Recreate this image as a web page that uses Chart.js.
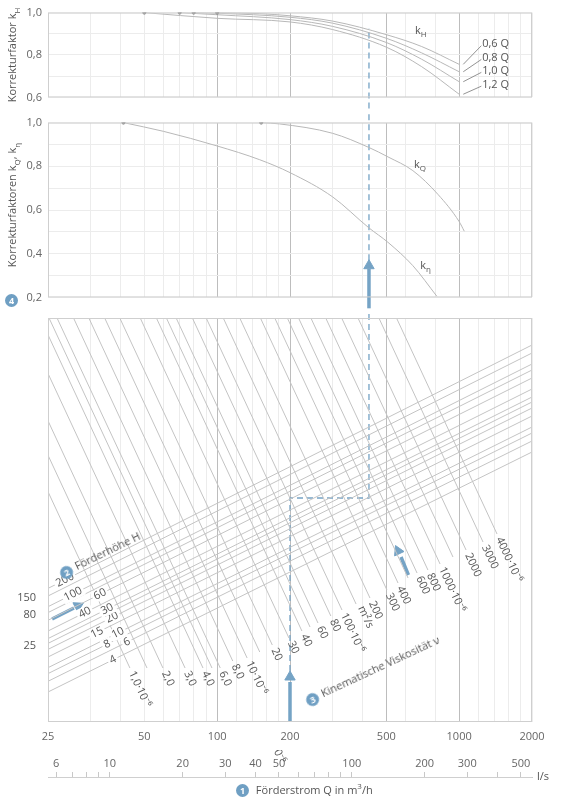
<!DOCTYPE html>
<html><head><meta charset="utf-8">
<script src="https://cdn.jsdelivr.net/npm/chart.js@4/dist/chart.umd.min.js"></script>
<style>
body{margin:0;background:#fff;font-family:"Open Sans",sans-serif;color:#555}
#wrap{position:relative;width:562px;height:800px;overflow:hidden}
canvas{position:absolute;left:0}
.t{position:absolute;font-size:11px;white-space:nowrap;color:#555}
.rot{transform:translate(-50%,-50%) rotate(-90deg)}
.num{display:inline-block;width:13px;height:13px;border-radius:50%;background:#6f9fc3;color:#fff;font-size:9px;line-height:13px;text-align:center;font-weight:bold;margin-right:4px;vertical-align:middle}
sub{font-size:8px}
</style></head><body><div id="wrap">
<canvas id="cH" width="562" height="110" style="top:0"></canvas>
<canvas id="cK" width="562" height="200" style="top:110px"></canvas>
<canvas id="cN" width="562" height="440" style="top:310px"></canvas>
<canvas id="cM" width="562" height="30" style="top:750px"></canvas>
<div class="t rot" style="left:13px;top:55px">Korrekturfaktor k<sub>H</sub></div>
<div class="t rot" style="left:13px;top:205px">Korrekturfaktoren k<sub>Q</sub>, k<sub>η</sub></div>
<div class="t" style="left:5px;top:291px"><span class="num">4</span></div>
<div class="t" style="left:60px;top:566px;transform:rotate(-26deg);transform-origin:0 50%"><span class="num">2</span>Förderhöhe H</div>
<div class="t" style="left:306px;top:693px;transform:rotate(-25deg);transform-origin:0 50%"><span class="num">3</span>Kinematische Viskosität ν</div>
<div class="t" style="left:537px;top:768px">l/s</div>
<div class="t" style="left:236px;top:780px"><span class="num">1</span> Förderstrom Q in m<sup style="font-size:8px">3</sup>/h</div>
</div>
<script>
// x axis (Förderstrom)
const gridTicks = [20,30,40,50,60,70,80,90,100,120,140,160,180,200,300,400,500,600,800,1000,1200,1400,1600,1800,2000];
const majorTicks = [100,200,500,1000];
const qTickLabels = {20:'25',50:'50',100:'100',200:'200',500:'500',1000:'1000',2000:'2000'};
const m3Ticks = [6,7,8,9,10,20,30,40,50,60,70,80,90,100,200,300,400,500];
const m3Labels = [6,10,20,30,40,50,100,200,300,500];

// Korrekturfaktor kH
const kHQ06 = [100,150,200,300,500,700,1000];
const kH06  = [1.0,0.995,0.985,0.96,0.896,0.84,0.756];
const kHQ08 = [80,100,200,300,500,700,1000];
const kH08  = [1.0,0.997,0.978,0.95,0.879,0.81,0.721];
const kHQ10 = [70,100,200,300,500,700,1000];
const kH10  = [1.0,0.99,0.967,0.935,0.859,0.78,0.674];
const kHQ12 = [50,100,200,300,500,700,1000];
const kH12  = [1.0,0.973,0.956,0.92,0.837,0.745,0.615];
const kHNames = ['0,6 Q','0,8 Q','1,0 Q','1,2 Q'];
const kHNameY = [0.852,0.787,0.726,0.661];

// kQ, keta
const kQQ = [152,181,300,424,508,644,818,1000,1050];
const kQ  = [1.0,0.994,0.951,0.886,0.843,0.78,0.671,0.547,0.503];
const kEQ = [41,60,100,150,200,300,424,508,644,809];
const kE  = [1.0,0.96,0.893,0.83,0.771,0.66,0.518,0.452,0.345,0.205];

// Nomogramm: Förderhöhe H
const hHeads  = [4,6,8,10,15,20,25,30,40,60,80,100,150,200];
const hLeftU  = [30,40.7,48.4,54.3,65,72.6,78.6,83.4,91,101.7,109.4,115.3,126,133.6];
const hRightU = [270,281,289,295,306,314,320,325,333,344,352,358,369,377];
const hLabelQ = [37.1,42.4,35.1,38.9,31.9,36.8,null,35.1,28.4,32.8,null,25.4,null,23.5];

// Nomogramm: Kinematische Viskosität
const nuLabels = ['1,0·10⁻⁶','','2,0','3,0','4,0','','6,0','8,0','10·10⁻⁶','','20','30','40','','60','80','100·10⁻⁶','','200\nm²/s','300','400','','600','800','1000·10⁻⁶','','2000','3000','4000·10⁻⁶'];
const nuStartQ = [20,20,20,20,20,20.2,21.8,25.5,29.5,34.3,39.6,48.1,56.1,61.7,67.7,79.0,90.1,106,124,151,173,195,217,244,281,327,382,466,551];
const nuStartU = [230.3,266.8,301.2,348.5,387.2,404,404,404,404,404,404,404,404,404,404,404,404,404,404,404,404,404,404,404,404,404,404,404,404];
const nuEndQ = [43.6,51.3,59.7,73.7,87.4,95.2,103,116,133,150,169,198,224,242,261,295,328,375,428,503,559,615,670,743,834,943,1068,1255,1434];
const nuEndU = [54,54,54,54,54,54,54,61,64,70,77,84,91,95,99,106,112,118,124,132,139,144,149,152,158,165,172,180,188];

const lineGrey = '#c4c4c4';
const blue = '#75a3c5';
const txt = '#555';
const FONT = '"Open Sans", sans-serif';

const pts = (xs, ys) => xs.map((x, i) => ({x, y: ys[i]}));

const frame = {
  id: 'frame',
  afterDraw(chart) {
    if (!chart.options.plugins.frame) return;
    const a = chart.chartArea, c = chart.ctx;
    c.save(); c.strokeStyle = '#cfcfcf'; c.lineWidth = 1;
    c.strokeRect(a.left + 0.5, a.top + 0.5, a.width - 1, a.height - 1);
    c.restore();
  }
};

const textLabels = {
  id: 'textLabels',
  afterDatasetsDraw(chart, args, opts) {
    if (!opts.items) return;
    const c = chart.ctx, xs = chart.scales.x, ys = chart.scales.y;
    c.save(); c.fillStyle = txt; c.textBaseline = 'middle';
    opts.items.forEach(it => {
      const px = xs.getPixelForValue(it.x), py = ys.getPixelForValue(it.y);
      c.font = '11px ' + FONT; c.textAlign = 'left';
      c.fillText(it.text, px, py);
      if (it.sub) {
        const w = c.measureText(it.text).width;
        c.font = '8px ' + FONT;
        c.fillText(it.sub, px + w, py + 4);
      }
    });
    c.restore();
  }
};

const nomoLabels = {
  id: 'nomoLabels',
  afterDatasetsDraw(chart) {
    if (!chart.options.plugins.nomoLabels) return;
    const c = chart.ctx, xs = chart.scales.x, ys = chart.scales.y;
    c.save(); c.fillStyle = txt; c.font = '11px ' + FONT; c.textBaseline = 'middle';
    hHeads.forEach((h, i) => {
      const xL = xs.getPixelForValue(20), yL = ys.getPixelForValue(hLeftU[i]);
      const xR = xs.getPixelForValue(2000), yR = ys.getPixelForValue(hRightU[i]);
      if (hLabelQ[i] === null) {
        c.textAlign = 'right';
        c.fillText(String(h), xL - 12, yL + 2);
        return;
      }
      const px = xs.getPixelForValue(hLabelQ[i]);
      const py = yL + (yR - yL) * (px - xL) / (xR - xL);
      const w = c.measureText(String(h)).width;
      c.save(); c.translate(px, py); c.rotate(Math.atan2(yR - yL, xR - xL));
      c.fillStyle = '#fff'; c.fillRect(-w / 2 - 2, -6, w + 4, 12);
      c.fillStyle = txt; c.textAlign = 'center'; c.fillText(String(h), 0, 0);
      c.restore();
    });
    nuLabels.forEach((lab, i) => {
      if (!lab) return;
      const xs0 = xs.getPixelForValue(nuStartQ[i]), ys0 = ys.getPixelForValue(nuStartU[i]);
      const xe = xs.getPixelForValue(nuEndQ[i]), ye = ys.getPixelForValue(nuEndU[i]);
      c.save(); c.translate(xe, ye); c.rotate(Math.atan2(ye - ys0, xe - xs0));
      c.textAlign = 'left';
      lab.split('\n').forEach((l, k) => c.fillText(l, 4, k * 12));
      c.restore();
    });
    c.restore();
  }
};
Chart.register(frame, textLabels, nomoLabels);

function qAxis(showLabels) {
  return {
    type: 'logarithmic', min: 20, max: 2000,
    afterBuildTicks: s => { s.ticks = gridTicks.map(v => ({value: v})); },
    afterFit: s => { s.height = showLabels ? 28 : 0; },
    ticks: {display: showLabels, autoSkip: false, minRotation: 0, maxRotation: 0, padding: 8, color: '#666',
      font: {size: 11, family: FONT}, callback: v => qTickLabels[v] || ''},
    grid: {color: c => majorTicks.includes(c.tick.value) ? '#bdbdbd' : '#ececec', drawTicks: false},
    border: {display: false}
  };
}
function kAxis(min) {
  return {
    min, max: 1.0,
    afterFit: s => { s.width = 48; },
    ticks: {stepSize: 0.1, padding: 6, color: '#666', font: {size: 11, family: FONT},
      callback: v => Math.round(v * 10) % 2 === 0 ? v.toFixed(1).replace('.', ',') : ''},
    grid: {color: '#ececec', drawTicks: false},
    border: {display: false}
  };
}
const curve = (data) => ({data, borderColor: '#b8b8b8', borderWidth: 1, cubicInterpolationMode: 'monotone',
  pointRadius: c => c.dataIndex === 0 ? 2 : 0, pointBackgroundColor: '#666', pointBorderWidth: 0});
const dashed = (data) => ({data, borderColor: blue, borderWidth: 1.3, borderDash: [6, 4], pointRadius: 0, clip: false});
const shaft = (data) => ({data, borderColor: blue, borderWidth: 3.5, pointRadius: 0, clip: false});
const head = (data, rotation) => ({data, showLine: false, pointStyle: 'triangle', pointRadius: 6, rotation,
  pointBackgroundColor: blue, pointBorderColor: blue, clip: false});
const base = {responsive: false, animation: false, devicePixelRatio: 1, parsing: false};

new Chart(document.getElementById('cH'), {
  type: 'line',
  data: {datasets: [
    curve(pts(kHQ06, kH06)), curve(pts(kHQ08, kH08)), curve(pts(kHQ10, kH10)), curve(pts(kHQ12, kH12)),
    ...kHNames.map((n, i) => ({data: [{x: 1040, y: [kH06, kH08, kH10, kH12][i].at(-1)}, {x: 1235, y: kHNameY[i] - 0.008}],
      borderColor: '#777', borderWidth: 0.8, pointRadius: 0})),
    dashed([{x: 424, y: 0.5}, {x: 424, y: 0.926}])
  ]},
  options: {...base, layout: {padding: {top: 10, bottom: 8, right: 30}},
    scales: {x: qAxis(false), y: kAxis(0.6)},
    plugins: {legend: {display: false}, tooltip: {enabled: false}, frame: true,
      textLabels: {items: [{x: 657, y: 0.913, text: 'k', sub: 'H'},
        ...kHNames.map((n, i) => ({x: 1245, y: kHNameY[i], text: n}))]}}}
});

new Chart(document.getElementById('cK'), {
  type: 'line',
  data: {datasets: [
    curve(pts(kQQ, kQ)), curve(pts(kEQ, kE)),
    shaft([{x: 424, y: 0.15}, {x: 424, y: 0.33}]), head([{x: 424, y: 0.345}], 0),
    dashed([{x: 424, y: 0.37}, {x: 424, y: 1.05}])
  ]},
  options: {...base, layout: {padding: {top: 7, bottom: 8, right: 30}},
    scales: {x: qAxis(false), y: kAxis(0.2)},
    plugins: {legend: {display: false}, tooltip: {enabled: false}, frame: true,
      textLabels: {items: [{x: 650, y: 0.805, text: 'k', sub: 'Q'}, {x: 690, y: 0.346, text: 'k', sub: 'η'}]}}}
});

new Chart(document.getElementById('cN'), {
  type: 'line',
  data: {datasets: [
    ...hHeads.map((h, i) => ({data: [{x: 20, y: hLeftU[i]}, {x: 2000, y: hRightU[i]}], borderColor: lineGrey, borderWidth: 1, pointRadius: 0})),
    ...nuLabels.map((n, i) => ({data: [{x: nuStartQ[i], y: nuStartU[i]}, {x: nuEndQ[i], y: nuEndU[i]}], borderColor: lineGrey, borderWidth: 1, pointRadius: 0})),
    shaft([{x: 200, y: 0}, {x: 200, y: 40}]), head([{x: 200, y: 45}], 0),
    dashed([{x: 200, y: 51}, {x: 200, y: 224}, {x: 424, y: 224}, {x: 424, y: 420}]),
    shaft([{x: 20.8, y: 103}, {x: 25.6, y: 114}]), head([{x: 26.6, y: 116}], 63),
    shaft([{x: 617, y: 147}, {x: 575, y: 165}]), head([{x: 559, y: 171}], -25)
  ]},
  options: {...base, layout: {padding: {top: 8, left: 48, right: 30}},
    scales: {x: qAxis(true), y: {display: false, min: 0, max: 404}},
    plugins: {legend: {display: false}, tooltip: {enabled: false}, frame: true, nomoLabels: true}}
});

new Chart(document.getElementById('cM'), {
  type: 'line',
  data: {datasets: [{data: []}]},
  options: {...base, layout: {padding: {bottom: 2, left: 48, right: 30}},
    scales: {
      x: {type: 'logarithmic', position: 'top', min: 20 / 3.6, max: 2000 / 3.6,
        afterBuildTicks: s => { s.ticks = m3Ticks.map(v => ({value: v})); },
        afterFit: s => { s.height = 27; },
        ticks: {autoSkip: false, minRotation: 0, maxRotation: 0, padding: 2, color: '#666', font: {size: 11, family: FONT},
          callback: v => m3Labels.includes(v) ? String(v) : ''},
        grid: {drawOnChartArea: false, tickLength: 5, color: '#c8c8c8'},
        border: {display: true, color: '#c8c8c8'}},
      y: {display: false}
    },
    plugins: {legend: {display: false}, tooltip: {enabled: false}}}
});
</script>
</body></html>
